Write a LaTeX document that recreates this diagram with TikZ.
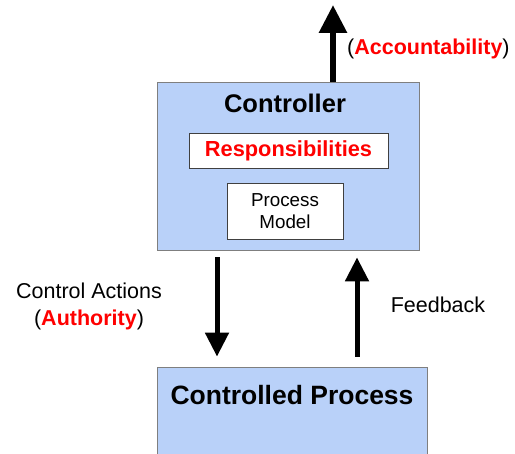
\documentclass[tikz,border=0pt]{standalone}
\usepackage{fontspec}
\setmainfont{Liberation Sans}
\usepackage{tikz}
\usetikzlibrary{arrows.meta}
\definecolor{boxblue}{HTML}{B9D1F9}
\definecolor{boxline}{HTML}{7F7F7F}

\begin{document}
\begin{tikzpicture}[x=1pt,y=-1pt,main box/.style={draw=boxline,fill=boxblue,line width=0.8pt,inner sep=0pt},inner box/.style={draw=black!75,fill=white,line width=0.8pt,inner sep=0pt},big arrow/.style={line width=5pt,-{Triangle[width=23pt,length=24pt]}},label text/.style={font=\fontsize{21.5}{27}\selectfont,align=center}]
			
			\useasboundingbox (0,0) rectangle (515,454);
			
			\node[main box,minimum width=262pt,minimum height=168pt] (1) at (288,166) {};
			\node[font=\fontsize{25.5}{28}\selectfont\bfseries] (2) at (285,103) {Controller};
			\node[inner box,minimum width=199pt,minimum height=35pt,text=red,font=\fontsize{21.8}{24}\selectfont\bfseries] (3) at (288.5,150.5) {Responsibilities};
			\node[inner box,minimum width=116pt,minimum height=56pt,font=\fontsize{18.8}{22}\selectfont,align=center] (4) at (285,211) {Process\\Model};
			
			\node[main box,minimum width=270pt,minimum height=93pt] (5) at (292,413.5) {};
			\node[font=\fontsize{26.5}{28}\selectfont\bfseries] (6) at (292,395) {Controlled Process};
			
			\node[label text,anchor=west,inner sep=0pt] (7) at (347,49) {(\textcolor{red}{\bfseries Accountability})};
			\node[label text] (8) at (89,306) {Control Actions\\(\textcolor{red}{\bfseries Authority})};
			\node[label text] (9) at (438,305) {Feedback};
			
			\coordinate (a) at (217,0);
			\coordinate (b) at (357,0);
			\coordinate (c) at (333,0);
			\coordinate (top) at (333,5);
			
			\draw[big arrow,line width=6pt,-{Triangle[width=27pt,length=28pt]}] (1.north -| c) -- (top);
			\draw[big arrow,shorten <=7pt,shorten >=10pt] (1.south -| a) -- (5.north -| a);
			\draw[big arrow,shorten <=10pt,shorten >=7pt] (5.north -| b) -- (1.south -| b);
			\end{tikzpicture}
\end{document}
